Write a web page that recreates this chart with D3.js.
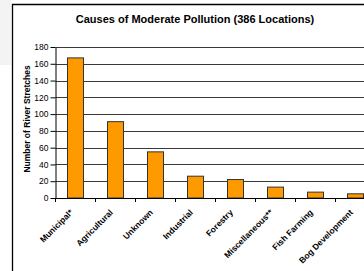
<!DOCTYPE html>
<html>
<head>
  <meta charset="utf-8">
  <style>
    body { margin: 0; background: #fff; }
    svg { display: block; font-family: Arial, "Liberation Sans", sans-serif; }
    svg .grid line { stroke: #3a3a3a; stroke-width: 1.2px; }
    svg .y-axis text { font-size: 8.5px; fill: #000; }
    svg .x-axis text { font-size: 8.5px; font-weight: bold; fill: #000; }
    svg .domain, svg .tick line { stroke: #000; }
    svg .bar { fill: #FF9900; stroke: #333; stroke-width: 1px; }
  </style>
</head>
<body>
<script src="https://d3js.org/d3.v7.min.js"></script>
<script>
  var categories = ["Municipal*", "Agricultural", "Unknown", "Industrial",
                    "Forestry", "Miscellaneous**", "Fish Farming", "Bog Development"];
  var stretches = [167, 91, 55, 26, 22, 13, 7, 5];
  var yTicks = [0, 20, 40, 60, 80, 100, 120, 140, 160, 180];

  var W = 364, H = 271;
  // plot runs off the right edge, as in the original
  var plotLeft = 55.5, plotRight = 375.5,
      plotTop = 47, plotBottom = 198;

  var svg = d3.select("body").append("svg")
      .attr("width", W)
      .attr("height", H);

  // faint grey strip left of the frame
  svg.append("rect")
      .attr("x", 0).attr("y", 0)
      .attr("width", 11).attr("height", 65)
      .style("fill", "#f3f3f3");

  // chart frame (only left and top edges fall inside the picture)
  svg.append("path")
      .attr("d", "M12.5," + H + "V4.5H" + W)
      .style("fill", "none")
      .style("stroke", "#000")
      .style("stroke-width", "1.3px");

  svg.append("text")
      .attr("x", 195)
      .attr("y", 23)
      .attr("text-anchor", "middle")
      .style("font-size", "11px")
      .style("font-weight", "bold")
      .text("Causes of Moderate Pollution (386 Locations)");

  var xScale = d3.scaleBand()
      .domain(categories)
      .range([plotLeft, plotRight])
      .paddingInner(0.6)
      .paddingOuter(0.3);

  var yScale = d3.scaleLinear()
      .domain([0, 180])
      .range([plotBottom, plotTop]);

  // horizontal grid lines
  svg.append("g")
      .classed("grid", true)
    .selectAll("line")
    .data(yTicks.filter(function (d) { return d > 0; }))
    .enter().append("line")
      .attr("x1", plotLeft)
      .attr("x2", W)
      .attr("y1", function (d) { return Math.round(yScale(d)) + 0.5; })
      .attr("y2", function (d) { return Math.round(yScale(d)) + 0.5; });

  // bars
  svg.append("g")
    .selectAll("rect")
    .data(stretches)
    .enter().append("rect")
      .classed("bar", true)
      .attr("x", function (d, i) { return xScale(categories[i]); })
      .attr("y", function (d) { return yScale(d); })
      .attr("width", xScale.bandwidth())
      .attr("height", function (d) { return plotBottom - yScale(d); });

  // y axis
  svg.append("g")
      .classed("y-axis", true)
      .attr("transform", "translate(" + plotLeft + ",0)")
      .call(d3.axisLeft(yScale).tickValues(yTicks).tickSize(5).tickPadding(2).tickSizeOuter(0));

  // x axis: labels under bar centres, tick marks between categories
  var xa = svg.append("g")
      .classed("x-axis", true)
      .attr("transform", "translate(0," + plotBottom + ")")
      .call(d3.axisBottom(xScale).tickSize(0).tickSizeOuter(0));

  xa.selectAll(".tick text")
      .attr("text-anchor", "end")
      .attr("x", 0)
      .attr("y", 0)
      .attr("dy", 0)
      .attr("transform", "translate(-2,15) rotate(-45)");

  xa.selectAll("line.sep")
    .data(d3.range(categories.length + 1))
    .enter().append("line")
      .classed("sep", true)
      .attr("x1", function (i) { return plotLeft + i * xScale.step(); })
      .attr("x2", function (i) { return plotLeft + i * xScale.step(); })
      .attr("y1", 0)
      .attr("y2", 4)
      .style("stroke", "#000");

  svg.append("text")
      .attr("transform", "translate(30,119) rotate(-90)")
      .attr("text-anchor", "middle")
      .style("font-size", "8.5px")
      .style("font-weight", "bold")
      .text("Number of River Stretches");
</script>
</body>
</html>
